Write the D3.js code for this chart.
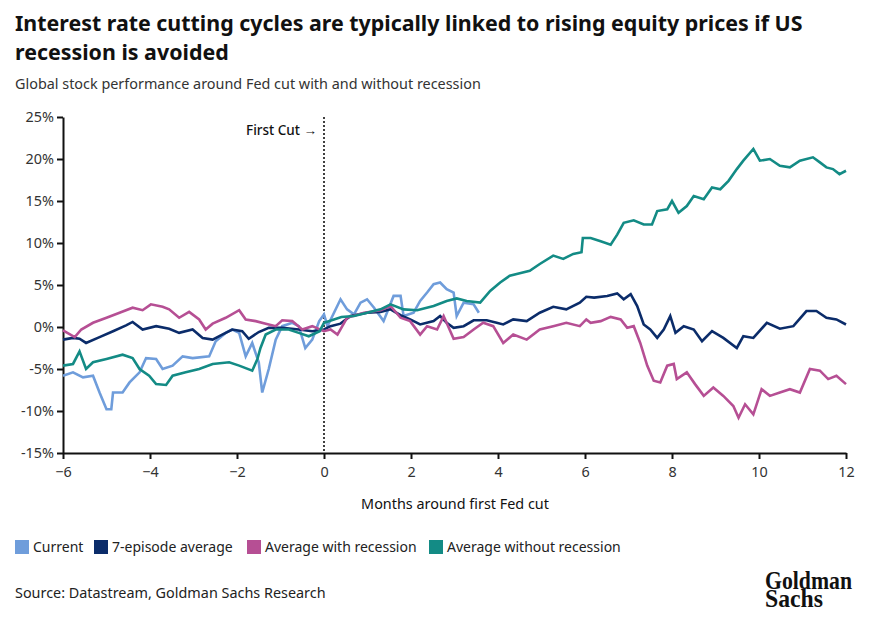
<!DOCTYPE html>
<html>
<head>
<meta charset="utf-8">
<script src="https://cdn.jsdelivr.net/npm/d3@7"></script>
<style>
	body { margin: 0; background: #fff; }
</style>
</head>
<body>
<div id="chart"></div>
<script>
// [months around first cut, % change]
const current = [[-6,-5.8],[-5.77,-5.4],[-5.54,-6.0],[-5.31,-5.8],[-5.16,-7.8],[-5.0,-9.8],[-4.89,-9.8],[-4.85,-7.8],[-4.63,-7.8],[-4.47,-6.6],[-4.24,-5.4],[-4.09,-3.7],[-3.86,-3.8],[-3.71,-5.0],[-3.48,-4.6],[-3.25,-3.5],[-3.02,-3.7],[-2.64,-3.5],[-2.49,-1.7],[-2.26,-0.7],[-2.11,-0.3],[-1.95,-0.7],[-1.8,-3.5],[-1.65,-1.9],[-1.5,-4.2],[-1.42,-7.8],[-1.27,-5.0],[-1.11,-1.5],[-0.96,0.1],[-0.73,0.5],[-0.58,0.1],[-0.43,-2.5],[-0.27,-1.5],[-0.11,0.7],[0.0,1.5],[0.08,0.1],[0.23,1.7],[0.38,3.3],[0.53,2.1],[0.69,1.5],[0.84,2.9],[0.99,3.3],[1.15,2.3],[1.37,0.7],[1.6,3.7],[1.76,3.7],[1.83,1.3],[2.06,1.7],[2.21,3.1],[2.37,4.1],[2.52,5.1],[2.67,5.3],[2.82,4.5],[2.98,4.1],[3.05,1.3],[3.21,2.9],[3.44,2.7],[3.56,1.7]]

const episodeAvg = [[-6,-1.5],[-5.77,-1.3],[-5.62,-1.4],[-5.47,-1.9],[-5.16,-1.2],[-4.85,-0.5],[-4.55,0.2],[-4.4,0.6],[-4.17,-0.3],[-3.86,0.1],[-3.56,-0.2],[-3.33,-0.7],[-3.02,-0.3],[-2.79,-1.3],[-2.56,-1.5],[-2.34,-0.9],[-2.11,-0.3],[-1.88,-0.5],[-1.73,-1.4],[-1.5,-0.6],[-1.27,-0.1],[-0.96,-0.1],[-0.58,-0.3],[-0.27,-0.5],[0,-0.3],[0.15,0.1],[0.38,0.4],[0.61,1.3],[0.99,1.7],[1.3,1.8],[1.53,2.1],[1.76,1.4],[1.98,0.9],[2.21,0.3],[2.52,0.7],[2.67,1.3],[2.82,0.5],[2.98,-0.1],[3.21,0.1],[3.44,0.8],[3.74,0.8],[3.97,0.5],[4.12,0.3],[4.35,0.9],[4.66,0.7],[4.96,1.7],[5.27,2.4],[5.57,2.1],[5.88,2.9],[6.03,3.6],[6.21,3.5],[6.51,3.7],[6.74,4.0],[6.89,3.3],[7.05,3.9],[7.2,2.5],[7.35,0.3],[7.5,-0.3],[7.66,-1.3],[7.81,-0.3],[7.96,1.3],[8.08,-0.7],[8.27,0.1],[8.5,-0.3],[8.69,-1.7],[8.92,-0.5],[9.18,-1.3],[9.49,-2.5],[9.64,-1.1],[9.87,-1.3],[10.18,0.5],[10.48,-0.2],[10.79,0.1],[11.09,1.9],[11.32,1.9],[11.55,1.1],[11.78,0.9],[12,0.3]]

const withRecession = [[-6,-0.4],[-5.73,-1.2],[-5.58,-0.3],[-5.31,0.5],[-5.0,1.1],[-4.7,1.7],[-4.4,2.3],[-4.17,2.0],[-3.98,2.7],[-3.71,2.4],[-3.56,2.1],[-3.33,1.1],[-3.1,1.8],[-2.87,0.9],[-2.72,-0.3],[-2.56,0.4],[-2.26,1.1],[-1.95,2.0],[-1.8,0.9],[-1.57,0.7],[-1.34,0.4],[-1.11,0.1],[-0.96,0.8],[-0.73,0.7],[-0.5,-0.3],[-0.27,0.1],[0,-0.5],[0.15,-0.3],[0.31,-0.9],[0.53,1.1],[0.92,1.7],[1.3,2.0],[1.53,2.5],[1.76,1.1],[1.98,0.7],[2.21,-0.9],[2.37,0.1],[2.6,-0.3],[2.75,1.3],[2.98,-1.4],[3.21,-1.2],[3.44,-0.3],[3.66,0.5],[3.89,0.1],[4.12,-1.9],[4.35,-0.9],[4.66,-1.5],[4.96,-0.3],[5.27,0.1],[5.57,0.5],[5.88,0.1],[6.03,0.9],[6.13,0.5],[6.36,0.7],[6.59,1.2],[6.82,0.9],[6.97,-0.1],[7.12,0.1],[7.27,-1.9],[7.43,-4.6],[7.58,-6.4],[7.73,-6.6],[7.89,-4.6],[8.04,-4.4],[8.11,-6.2],[8.34,-5.4],[8.53,-6.8],[8.73,-8.2],[8.95,-7.2],[9.18,-8.2],[9.41,-9.4],[9.53,-10.8],[9.68,-9.2],[9.87,-10.4],[10.06,-7.4],[10.25,-8.2],[10.48,-7.8],[10.71,-7.4],[10.94,-7.8],[11.17,-5.0],[11.4,-5.2],[11.59,-6.2],[11.78,-5.8],[12,-6.8]]

const withoutRecession = [[-6,-4.6],[-5.77,-4.4],[-5.62,-2.9],[-5.47,-5.0],[-5.31,-4.2],[-5.0,-3.8],[-4.63,-3.3],[-4.4,-3.7],[-4.24,-5.0],[-4.02,-5.8],[-3.86,-6.8],[-3.63,-6.9],[-3.48,-5.8],[-3.18,-5.4],[-2.87,-5.0],[-2.56,-4.4],[-2.18,-4.2],[-1.95,-4.6],[-1.65,-5.2],[-1.53,-3.8],[-1.46,-2.5],[-1.34,-0.9],[-1.11,-0.3],[-0.81,-0.3],[-0.58,-0.7],[-0.35,-1.1],[-0.1,-0.5],[0,0.5],[0.23,0.9],[0.4,1.2],[0.69,1.3],[0.99,1.7],[1.3,2.1],[1.53,2.7],[1.83,2.1],[2.14,2.0],[2.52,2.5],[2.82,3.1],[3.05,3.4],[3.28,3.1],[3.59,2.9],[3.82,4.3],[4.05,5.3],[4.27,6.1],[4.5,6.4],[4.73,6.7],[4.96,7.5],[5.27,8.5],[5.5,8.1],[5.73,8.7],[5.92,8.9],[5.95,10.6],[6.13,10.6],[6.36,10.2],[6.59,9.8],[6.74,11.0],[6.89,12.4],[7.12,12.7],[7.35,12.2],[7.54,12.2],[7.66,13.8],[7.89,14.0],[8.0,15.0],[8.15,13.6],[8.34,14.4],[8.5,15.6],[8.73,15.2],[8.92,16.6],[9.11,16.4],[9.3,17.4],[9.49,18.8],[9.64,19.8],[9.87,21.2],[10.02,19.8],[10.25,20.0],[10.48,19.2],[10.71,19.0],[10.94,19.8],[11.24,20.2],[11.4,19.6],[11.55,19.0],[11.7,18.8],[11.85,18.2],[12,18.6]]

const xTicks = [-6, -4, -2, 0, 2, 4, 6, 8, 10, 12]
const yTicks = [-15, -10, -5, 0, 5, 10, 15, 20, 25]

const series = [
	{ name: 'Current', color: '#6f9ddb', data: current },
	{ name: '7-episode average', color: '#0b2c6a', data: episodeAvg },
	{ name: 'Average with recession', color: '#b64f94', data: withRecession },
	{ name: 'Average without recession', color: '#138b85', data: withoutRecession }
]

const W = 869, H = 626
const margin = ({ top: 117, right: 23, bottom: 173, left: 63 })
const width = W - margin.left - margin.right
const height = H - margin.top - margin.bottom

const root = d3.select('#chart')
	.append('svg')
	.attr('width', W)
	.attr('height', H)
	.attr('font-family', "'Noto Sans', sans-serif")

root.append('text')
	.attr('x', 15).attr('y', 31)
	.attr('font-size', 21.4).attr('font-weight', 'bold').attr('fill', '#111')
	.text('Interest rate cutting cycles are typically linked to rising equity prices if US')
root.append('text')
	.attr('x', 15).attr('y', 60)
	.attr('font-size', 21.4).attr('font-weight', 'bold').attr('fill', '#111')
	.text('recession is avoided')
root.append('text')
	.attr('x', 15).attr('y', 89)
	.attr('font-size', 14.4).attr('fill', '#333')
	.text('Global stock performance around Fed cut with and without recession')

const svg = root.append('g')
	.attr('transform', `translate(${margin.left},${margin.top})`)

const xScale = d3.scaleLinear()
	.domain([-6, 12])
	.range([0, width])

const yScale = d3.scaleLinear()
	.domain([-15, 25])
	.range([height, 0])

const xAxis = d3.axisBottom(xScale)
	.tickValues(xTicks)
	.tickSize(6)
	.tickSizeOuter(0)

const yAxis = d3.axisLeft(yScale)
	.tickValues(yTicks)
	.tickSize(6)
	.tickSizeOuter(0)
	.tickFormat(d => d + '%')

svg.append('g')
	.attr('transform', `translate(0, ${height})`)
	.call(xAxis)
	.call(g => g.selectAll('.domain, .tick line').attr('stroke', '#111').attr('stroke-width', 2))
	.call(g => g.selectAll('text').attr('font-family', null).attr('font-size', 14.4).attr('fill', '#333').attr('dy', '1.05em'))

svg.append('g')
	.call(yAxis)
	.call(g => g.selectAll('.domain, .tick line').attr('stroke', '#111').attr('stroke-width', 2))
	.call(g => g.selectAll('text').attr('font-size', 14.4).attr('fill', '#333').attr('x', -9))

svg.selectAll('.tick text').attr('font-family', "'Noto Sans', sans-serif")

// first cut marker
svg.append('line')
	.attr('x1', xScale(0)).attr('x2', xScale(0))
	.attr('y1', 0).attr('y2', height)
	.attr('stroke', '#111')
	.attr('stroke-width', 1.6)
	.attr('stroke-dasharray', '2,2')

svg.append('text')
	.attr('x', xScale(0) - 7)
	.attr('y', 18)
	.attr('text-anchor', 'end')
	.attr('font-size', 13.5)
	.attr('font-weight', 500)
	.attr('fill', '#111')
	.text('First Cut →')

const line = d3.line()
	.x(d => xScale(d[0]))
	.y(d => yScale(d[1]))

svg.selectAll('.series')
	.data(series)
	.join('path')
	.attr('class', 'series')
	.attr('fill', 'none')
	.attr('stroke', d => d.color)
	.attr('stroke-width', 2.6)
	.attr('stroke-linejoin', 'miter')
	.attr('d', d => line(d.data))

root.append('text')
	.attr('x', 455).attr('y', 509)
	.attr('text-anchor', 'middle')
	.attr('font-size', 14.4).attr('fill', '#111')
	.text('Months around first Fed cut')

// legend
const legendX = [15, 94, 247, 429]
const legend = root.append('g')
	.selectAll('g')
	.data(series)
	.join('g')
	.attr('transform', (d, i) => `translate(${legendX[i]}, 540)`)

legend.append('rect')
	.attr('width', 14).attr('height', 14)
	.attr('fill', d => d.color)

legend.append('text')
	.attr('x', 18).attr('y', 12)
	.attr('font-size', 14).attr('fill', '#222')
	.text(d => d.name)

root.append('text')
	.attr('x', 15).attr('y', 598)
	.attr('font-size', 14.4).attr('fill', '#222')
	.text('Source: Datastream, Goldman Sachs Research')

// logo
const logo = root.append('g')
	.attr('font-family', "'Liberation Serif', 'DejaVu Serif', serif")
	.attr('font-weight', 'bold')
	.attr('font-size', 25)
	.attr('fill', '#111')
logo.append('text')
	.attr('x', 765).attr('y', 589)
	.attr('textLength', 87).attr('lengthAdjust', 'spacingAndGlyphs')
	.text('Goldman')
logo.append('text')
	.attr('x', 765).attr('y', 607)
	.attr('textLength', 58).attr('lengthAdjust', 'spacingAndGlyphs')
	.text('Sachs')
</script>
</body>
</html>
